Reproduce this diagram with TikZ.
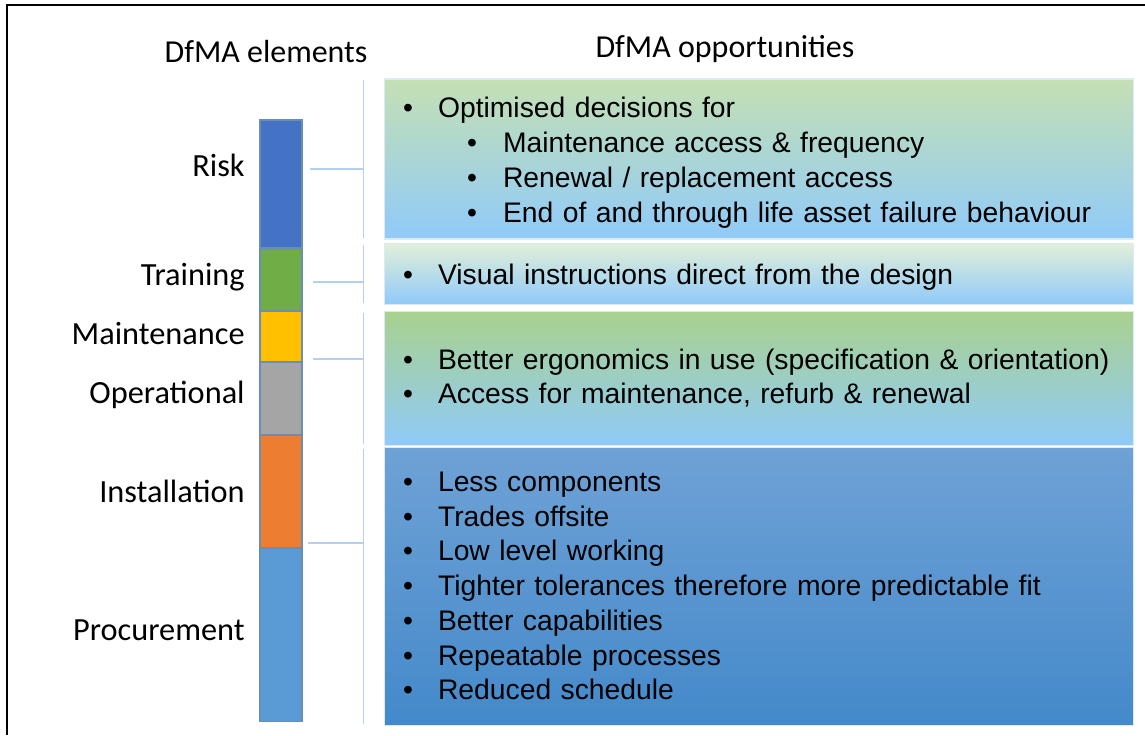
\documentclass[tikz,border=0pt]{standalone}
\usepackage{fontspec}
\setmainfont{Carlito}
\newfontfamily\boxfont{Liberation Sans}
\usetikzlibrary{calc,positioning}
\definecolor{RiskBlue}{HTML}{4472C4}
\definecolor{TrainGreen}{HTML}{70AD47}
\definecolor{MaintGold}{HTML}{FFC000}
\definecolor{OperGrey}{HTML}{A5A5A5}
\definecolor{InstOrange}{HTML}{ED7D31}
\definecolor{ProcBlue}{HTML}{5B9BD5}
\definecolor{BarEdge}{HTML}{6A8DB5}
\definecolor{LinkBlue}{HTML}{B4D0F0}
\definecolor{BoxEdge}{HTML}{DCEAF8}
\definecolor{SkyBlue}{HTML}{90CAF9}
\definecolor{SageTop}{HTML}{C5E0B4}
\definecolor{PaleTop}{HTML}{E2F0D9}
\definecolor{LeafTop}{HTML}{A9D18E}
\definecolor{DeepTop}{HTML}{6FA2D6}
\definecolor{DeepBottom}{HTML}{4489CA}
\newcommand{\bitem}[1]{\makebox[0.7cm][l]{\textbullet}#1}
\newcommand{\sitem}[1]{\hspace*{1.28cm}\makebox[0.72cm][l]{\textbullet}#1}
\newcommand{\lead}{\rule{0pt}{0.56cm}}

\begin{document}
\begin{tikzpicture}[x=0.02cm, y=-0.02cm,
		seg/.style={draw=BarEdge, line width=0.6pt, minimum width=0.84cm,
			inner sep=0pt},
		elem/.style={anchor=east, inner sep=0pt, font=\fontsize{18.4}{22}\selectfont},
		head/.style={inner sep=0pt, font=\fontsize{18.2}{22}\selectfont},
		box/.style={draw=BoxEdge, line width=0.6pt, minimum width=15cm,
			text width=14.24cm, inner xsep=0.38cm, inner ysep=0pt, align=left,
			font=\boxfont\fontsize{16.1}{19.76}\selectfont},
		link/.style={LinkBlue, line width=0.9pt}
		]
		\useasboundingbox (0,0) rectangle (1145,735);
		\draw[line width=1.2pt] (7,735) -- (7,5) -- (1145,5);

		\node[head] (h1) at (266,52) {DfMA elements};
		\node[head] (h2) at (725,49) {DfMA opportunities};

		\node[seg, fill=RiskBlue, minimum height=2.56cm] (risk) at (281,184) {};
		\node[seg, fill=TrainGreen, minimum height=1.22cm, below=0pt of risk] (train) {};
		\node[seg, fill=MaintGold, minimum height=1.0cm, below=0pt of train] (maint) {};
		\node[seg, fill=OperGrey, minimum height=1.44cm, below=0pt of maint] (oper) {};
		\node[seg, fill=InstOrange, minimum height=2.24cm, below=0pt of oper] (inst) {};
		\node[seg, fill=ProcBlue, minimum height=3.46cm, below=0pt of inst] (proc) {};

		\node[elem] (lrisk) at (245,165) {Risk};
		\node[elem] (ltrain) at (245,277) {Training};
		\node[elem] (lmaint) at (245,333) {Maintenance};
		\node[elem] (loper) at (245,395) {Operational};
		\node[elem] (linst) at (245,491) {Installation};
		\node[elem] (lproc) at (245,630) {Procurement};

		\node[box, minimum height=3.2cm, top color=SageTop, bottom color=SkyBlue]
			(b1) at (759,159) {%
			\bitem{\lead Optimised decisions for}\\
			\sitem{Maintenance access \& frequency}\\
			\sitem{Renewal / replacement access}\\
			\sitem{End of and through life asset failure behaviour}};
		\node[box, minimum height=1.22cm, top color=PaleTop, bottom color=SkyBlue,
			below=0.06cm of b1] (b2) {%
			\bitem{\lead Visual instructions direct from the design}};
		\node[box, minimum height=2.68cm, top color=LeafTop, bottom color=SkyBlue,
			below=0.12cm of b2] (b3) {%
			\bitem{Better ergonomics in use (specification \& orientation)}\\
			\bitem{Access for maintenance, refurb \& renewal}};
		\node[box, minimum height=5.56cm, top color=DeepTop, bottom color=DeepBottom,
			below=0.02cm of b3] (b4) {%
			\bitem{Less components}\\
			\bitem{Trades offsite}\\
			\bitem{Low level working}\\
			\bitem{Tighter tolerances therefore more predictable fit}\\
			\bitem{Better capabilities}\\
			\bitem{Repeatable processes}\\
			\bitem{Reduced schedule}};

		\coordinate (t1) at (310,169);
		\coordinate (t2) at (313,282);
		\coordinate (t3) at (313,359);
		\coordinate (t4) at (308,543);
		\foreach \t/\b in {t1/b1, t2/b2, t3/b3, t4/b4} {
			\draw[link] ($(\b.north west)+(-20,2)$) -- ($(\b.south west)+(-20,-2)$);
			\draw[link] (\t) -- ($(\b.west |- \t)+(-20,0)$);
		}
	\end{tikzpicture}
\end{document}
